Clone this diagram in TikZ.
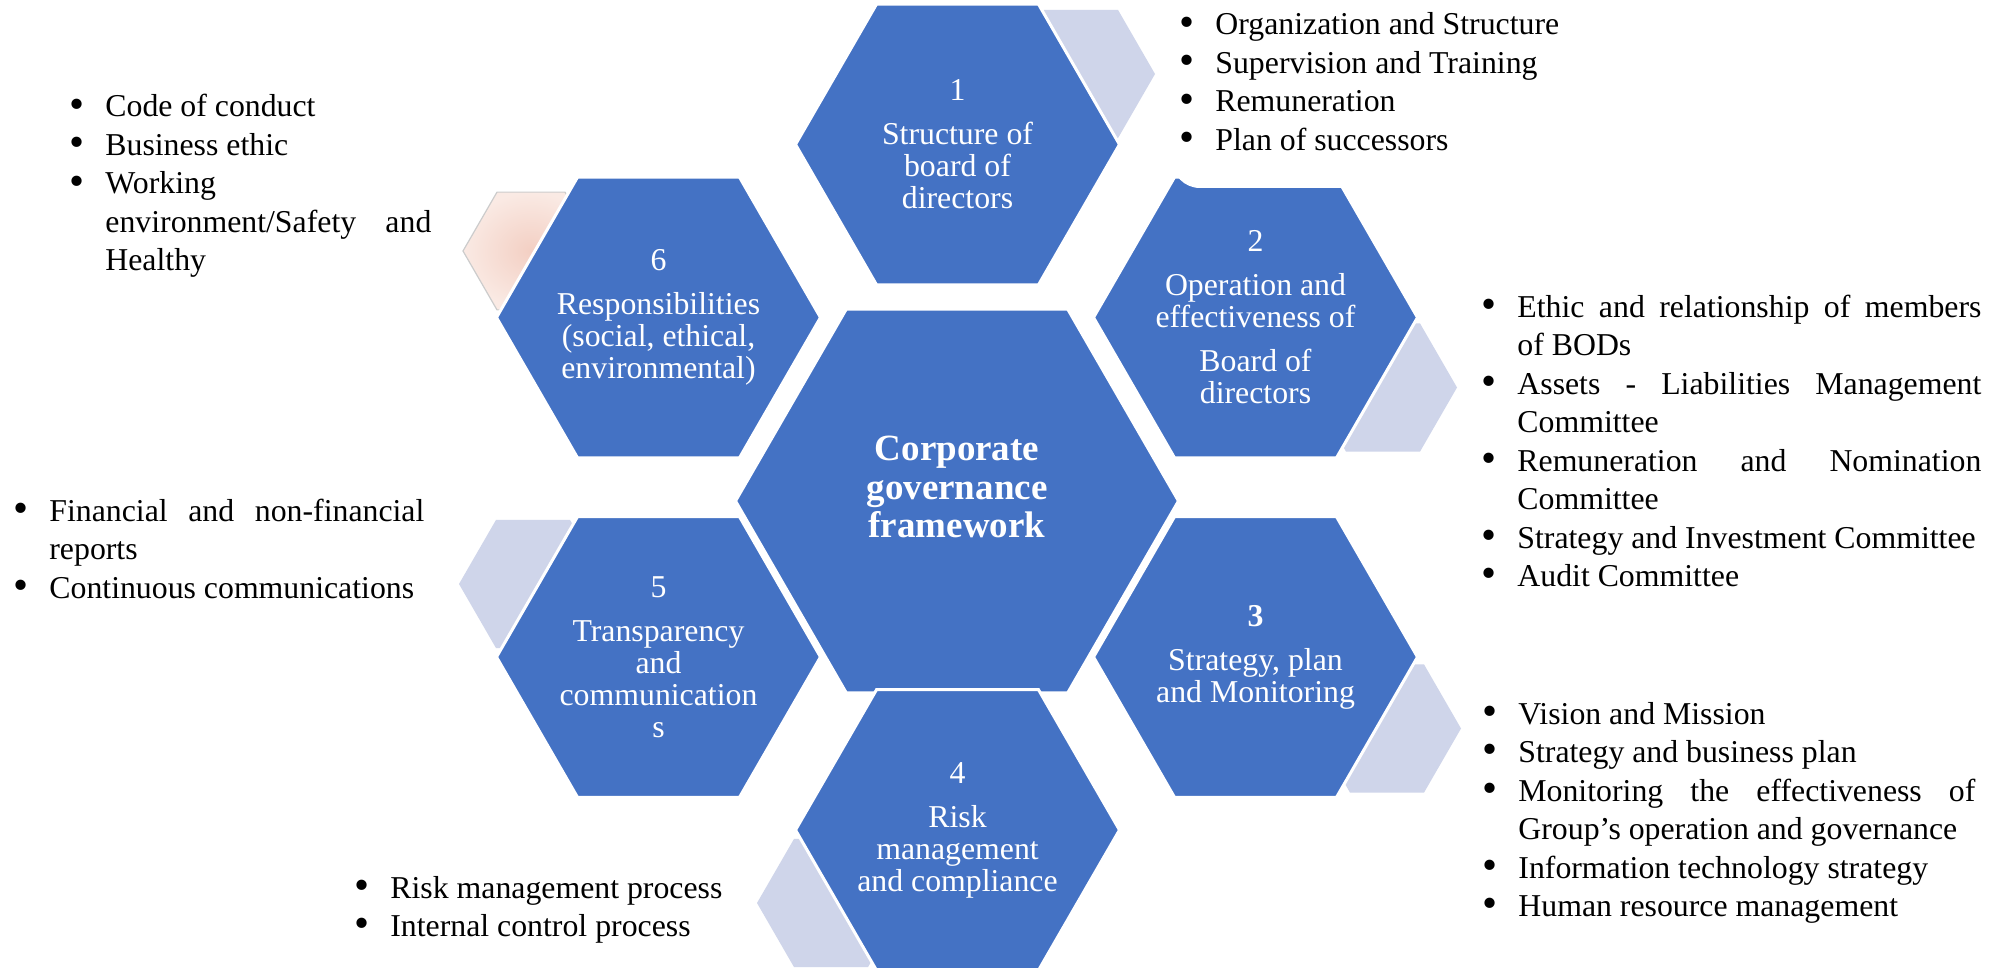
\documentclass[tikz,border=0pt]{standalone}
\usepackage{fontspec}
\setmainfont{Liberation Serif}
\usetikzlibrary{shapes.geometric}
\definecolor{hexblue}{HTML}{4472C4}
\definecolor{hexlight}{HTML}{CFD5EA}
\definecolor{pinkc}{HTML}{F3CFC3}
\definecolor{pinkl}{HTML}{FAEAE4}
\newcommand{\mybul}{\makebox[18pt][l]{\raisebox{-0.6pt}{\scalebox{1.35}{\textbullet}}}}
\newcommand{\myitem}[1]{\noindent\hangindent=18pt\hangafter=1\mybul #1\par}
\begin{document}
\begin{tikzpicture}[x=0.5pt,y=-0.5pt,
  hexb/.style={regular polygon, regular polygon sides=6,
    fill=hexblue, draw=white, line width=1.5pt, inner sep=0pt, outer sep=0pt, minimum size=#1},
  hexl/.style={regular polygon, regular polygon sides=6,
    fill=hexlight, draw=none, inner sep=0pt, outer sep=0pt, minimum size=#1},
  hexp/.style={regular polygon, regular polygon sides=6,
    shade, shading=radial, inner color=pinkc, outer color=pinkl, draw=gray!40, line width=0.6pt,
    inner sep=0pt, outer sep=0pt, minimum size=#1},
  htext/.style={text=white, align=center, inner sep=0pt, font=\fontsize{15.9pt}{16pt}\selectfont},
  ctext/.style={text=white, align=center, inner sep=0pt, font=\fontsize{18.5pt}{19.3pt}\selectfont\bfseries},
  lst/.style={anchor=base west, inner sep=0pt, align=justify, font=\fontsize{15.9pt}{19.25pt}\selectfont}]
\useasboundingbox (0,0) rectangle (2001,968);
\fill[white] (0,0) rectangle (2001,968);
% light hexagons behind
\node[hexl=74pt] (l1) at (1081,74) {};
\node[hexl=74pt] (l2) at (1383,387.5) {};
\node[hexl=74pt] (l3) at (1387,728.5) {};
\node[hexl=74pt] (l4) at (831,903) {};
\node[hexl=74pt] (l5) at (533,584) {};
\node[hexp=68pt] (l6) at (531,251) {};
% blue hexagons
\node[hexb=221.5pt] (hc) at (957,501) {};
\node[hexb=162pt] (h1) at (957.5,144.5) {};
\node[hexb=162pt] (h2) at (1255.5,317.5) {};
\node[hexb=162pt] (h3) at (1255.5,657) {};
\node[hexb=162pt] (h4) at (957.5,830) {};
\node[hexb=162pt] (h5) at (658.5,657) {};
\node[hexb=162pt] (h6) at (658.5,317.5) {};
% white text box corner over hexagon 2
\fill[white, rounded corners=14pt] (1172,-40) rectangle (1700,188);
% hexagon texts
\node[ctext, yshift=7pt] (tc) at (hc.center) {Corporate\\governance\\framework};
\node[htext] (t1) at (h1.center) {1\\[6pt]Structure of\\board of\\directors};
\node[htext] (t2) at (h2.center) {2\\[6pt]Operation and\\effectiveness of\\[6pt]Board of\\directors};
\node[htext] (t3) at (h3.center) {\textbf{3}\\[6pt]Strategy, plan\\and Monitoring};
\node[htext] (t4) at (h4.center) {4\\[6pt]Risk\\management\\and compliance};
\node[htext] (t5) at (h5.center) {5\\[6pt]Transparency\\and\\communication\\s};
\node[htext] (t6) at (h6.center) {6\\[6pt]Responsibilities\\(social, ethical,\\environmental)};
% bullet lists
\node[lst, text width=220pt] (b1) at (1179,35) {%
\myitem{Organization and Structure}%
\myitem{Supervision and Training}%
\myitem{Remuneration}%
\myitem{Plan of successors}};
\node[lst, text width=250pt] (b2) at (1481,317) {%
\myitem{Ethic and relationship of members\linebreak of BODs}%
\myitem{Assets - Liabilities Management\linebreak Committee}%
\myitem{Remuneration and Nomination\linebreak Committee}%
\myitem{Strategy and Investment Committee}%
\myitem{Audit Committee}};
\node[lst, text width=246.5pt] (b3) at (1482,724) {%
\myitem{Vision and Mission}%
\myitem{Strategy and business plan}%
\myitem{Monitoring the effectiveness of\linebreak Group’s operation and governance}%
\myitem{Information technology strategy}%
\myitem{Human resource management}};
\node[lst, text width=200pt] (b4) at (354,898) {%
\myitem{Risk management process}%
\myitem{Internal control process}};
\node[lst, text width=205.5pt] (b5) at (13,521) {%
\myitem{Financial and non-financial\linebreak reports}%
\myitem{Continuous communications}};
\node[lst, text width=181pt] (b6) at (69,117) {%
\myitem{Code of conduct}%
\myitem{Business ethic}%
\myitem{Working\newline environment/Safety and\linebreak Healthy}};
\end{tikzpicture}
\end{document}
